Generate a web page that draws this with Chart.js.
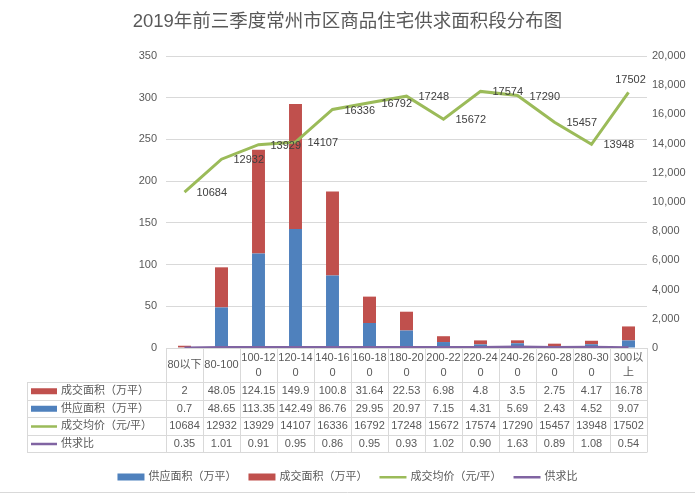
<!DOCTYPE html>
<html>
<head>
<meta charset="utf-8">
<script src="https://cdn.jsdelivr.net/npm/chart.js@4"></script>
<style>
html,body{margin:0;padding:0;background:#fff;}
canvas{display:block;}
</style>
</head>
<body>
<canvas id="c" width="695" height="496"></canvas>
<script>
const titleText = '2019年前三季度常州市区商品住宅供求面积段分布图';
const categories = ['80以下','80-100','100-120','120-140','140-160','160-180','180-200','200-220','220-240','240-260','260-280','280-300','300以上'];
const supplyArea = [0.7,48.65,113.35,142.49,86.76,29.95,20.97,7.15,4.31,5.69,2.43,4.52,9.07];
const dealArea = [2,48.05,124.15,149.9,100.8,31.64,22.53,6.98,4.8,3.5,2.75,4.17,16.78];
const avgPrice = [10684,12932,13929,14107,16336,16792,17248,15672,17574,17290,15457,13948,17502];
const ratio = [0.35,1.01,0.91,0.95,0.86,0.95,0.93,1.02,0.90,1.63,0.89,1.08,0.54];
const leftAxis = {min:0, max:350, step:50};
const rightAxis = {min:0, max:20000, step:2000};

const C_BLUE = '#4F81BD', C_RED = '#C0504D', C_GREEN = '#9BBB59', C_PURPLE = '#8064A2';
const TXT = '#595959', GRID = '#D9D9D9';
const FONT = '"Liberation Sans", "Noto Sans CJK SC", sans-serif';

const labels = {
  supply: '供应面积（万平）', deal: '成交面积（万平）', price: '成交均价（元/平）', ratio: '供求比'
};

function wrapText(ctx, text, maxW) {
  const lines = []; let cur = '';
  for (const ch of text) {
    if (ctx.measureText(cur + ch).width > maxW && cur) { lines.push(cur); cur = ch; }
    else cur += ch;
  }
  if (cur) lines.push(cur);
  return lines;
}

const tablePlugin = {
  id: 'tablePlugin',
  afterDatasetsDraw(chart) {
    const ctx = chart.ctx;
    const meta = chart.getDatasetMeta(0);
    ctx.save();
    ctx.font = '11px ' + FONT;
    ctx.fillStyle = '#404040';
    meta.data.forEach((pt, i) => {
      const t = String(avgPrice[i]);
      if (i === avgPrice.length - 1) {
        ctx.textAlign = 'center'; ctx.textBaseline = 'middle';
        ctx.fillText(t, pt.x + 2, pt.y - 13);
      } else {
        ctx.textAlign = 'left'; ctx.textBaseline = 'middle';
        ctx.fillText(t, pt.x + 12, pt.y + 1);
      }
    });
    ctx.restore();
  },
  afterDraw(chart) {
    const ctx = chart.ctx;
    const xs = chart.scales.x;
    const n = categories.length;
    const L = xs.left, R = xs.right;
    const colW = (R - L) / n;
    const top = chart.chartArea.bottom;
    const rowY = [382, 399.5, 417, 434.5, 452];
    const tableLeft = 27;
    ctx.save();
    ctx.fillStyle = TXT;
    ctx.font = '18.5px ' + FONT;
    ctx.textAlign = 'center'; ctx.textBaseline = 'middle';
    ctx.fillText(titleText, 347.5, 22);

    ctx.strokeStyle = GRID; ctx.lineWidth = 1;
    ctx.beginPath();
    for (let i = 0; i <= n; i++) {
      const x = Math.round(L + i * colW) + 0.5;
      ctx.moveTo(x, top); ctx.lineTo(x, rowY[4]);
    }
    ctx.moveTo(tableLeft + 0.5, rowY[0]); ctx.lineTo(tableLeft + 0.5, rowY[4]);
    rowY.forEach(y => { const yy = Math.round(y) + 0.5; ctx.moveTo(tableLeft, yy); ctx.lineTo(R + 0.5, yy); });
    ctx.stroke();

    ctx.font = '11px ' + FONT;
    ctx.fillStyle = TXT;
    ctx.textAlign = 'center'; ctx.textBaseline = 'middle';
    categories.forEach((c, i) => {
      const cx = xs.getPixelForValue(i);
      const lines = wrapText(ctx, c, colW - 2);
      const lh = 15;
      const y0 = (top + rowY[0]) / 2 - (lines.length - 1) * lh / 2;
      lines.forEach((ln, k) => ctx.fillText(ln, cx, y0 + k * lh));
    });

    const rows = [
      {label: labels.deal, vals: dealArea.map(v => String(v)), key: 'rect', color: C_RED},
      {label: labels.supply, vals: supplyArea.map(v => String(v)), key: 'rect', color: C_BLUE},
      {label: labels.price, vals: avgPrice.map(v => String(v)), key: 'line', color: C_GREEN},
      {label: labels.ratio, vals: ratio.map(v => v.toFixed(2)), key: 'line', color: C_PURPLE}
    ];
    rows.forEach((r, k) => {
      const cy = (rowY[k] + rowY[k + 1]) / 2 + 0.5;
      ctx.fillStyle = r.color;
      if (r.key === 'rect') ctx.fillRect(31, cy - 3, 26, 6);
      else ctx.fillRect(31, cy - 1, 26, 2.5);
      ctx.fillStyle = TXT;
      ctx.textAlign = 'left';
      ctx.fillText(r.label, 61, cy);
      ctx.textAlign = 'center';
      r.vals.forEach((v, i) => ctx.fillText(v, xs.getPixelForValue(i), cy));
    });

    const items = [
      {label: labels.supply, key: 'rect', color: C_BLUE},
      {label: labels.deal, key: 'rect', color: C_RED},
      {label: labels.price, key: 'line', color: C_GREEN},
      {label: labels.ratio, key: 'line', color: C_PURPLE}
    ];
    const keyW = 27, gap = 4, itemGap = 12;
    let total = 0;
    items.forEach((it, i) => { it.w = ctx.measureText(it.label).width; total += keyW + gap + it.w + (i ? itemGap : 0); });
    let x = 347.5 - total / 2;
    const ly = 477;
    items.forEach((it) => {
      ctx.fillStyle = it.color;
      if (it.key === 'rect') ctx.fillRect(x, ly - 3.5, keyW, 7);
      else ctx.fillRect(x, ly - 1, keyW, 2.5);
      ctx.fillStyle = TXT; ctx.textAlign = 'left';
      ctx.fillText(it.label, x + keyW + gap, ly);
      x += keyW + gap + it.w + itemGap;
    });

    ctx.strokeStyle = GRID;
    ctx.beginPath(); ctx.moveTo(0, 492.5); ctx.lineTo(695, 492.5); ctx.stroke();
    ctx.restore();
  }
};

new Chart(document.getElementById('c'), {
  data: {
    labels: categories,
    datasets: [
      {type: 'line', label: labels.price, data: avgPrice, yAxisID: 'y1', borderColor: C_GREEN, borderWidth: 3, pointRadius: 0, tension: 0, order: 0},
      {type: 'line', label: labels.ratio, data: ratio, yAxisID: 'y', borderColor: C_PURPLE, borderWidth: 2.5, pointRadius: 0, tension: 0, order: 1},
      {type: 'bar', label: labels.supply, data: supplyArea, yAxisID: 'y', backgroundColor: C_BLUE, stack: 's', barPercentage: 0.35, categoryPercentage: 1, order: 2},
      {type: 'bar', label: labels.deal, data: dealArea, yAxisID: 'y', backgroundColor: C_RED, stack: 's', barPercentage: 0.35, categoryPercentage: 1, order: 3}
    ]
  },
  options: {
    responsive: false,
    animation: false,
    devicePixelRatio: 1,
    layout: {padding: {top: 56, bottom: 148, left: 0, right: 0}},
    plugins: {legend: {display: false}, tooltip: {enabled: false}, title: {display: false}},
    scales: {
      x: {type: 'category', display: false, offset: true, stacked: true},
      y: {
        position: 'left', stacked: true, min: leftAxis.min, max: leftAxis.max,
        ticks: {stepSize: leftAxis.step, color: TXT, font: {size: 11, family: FONT}, padding: 9},
        grid: {color: GRID, drawTicks: false},
        border: {display: false},
        afterFit(s) { s.width = 166; }
      },
      y1: {
        position: 'right', min: rightAxis.min, max: rightAxis.max,
        ticks: {stepSize: rightAxis.step, color: TXT, font: {size: 11, family: FONT}, padding: 5},
        grid: {display: false, drawOnChartArea: false, drawTicks: false},
        border: {display: false},
        afterFit(s) { s.width = 48; }
      }
    }
  },
  plugins: [tablePlugin]
});
</script>
</body>
</html>
